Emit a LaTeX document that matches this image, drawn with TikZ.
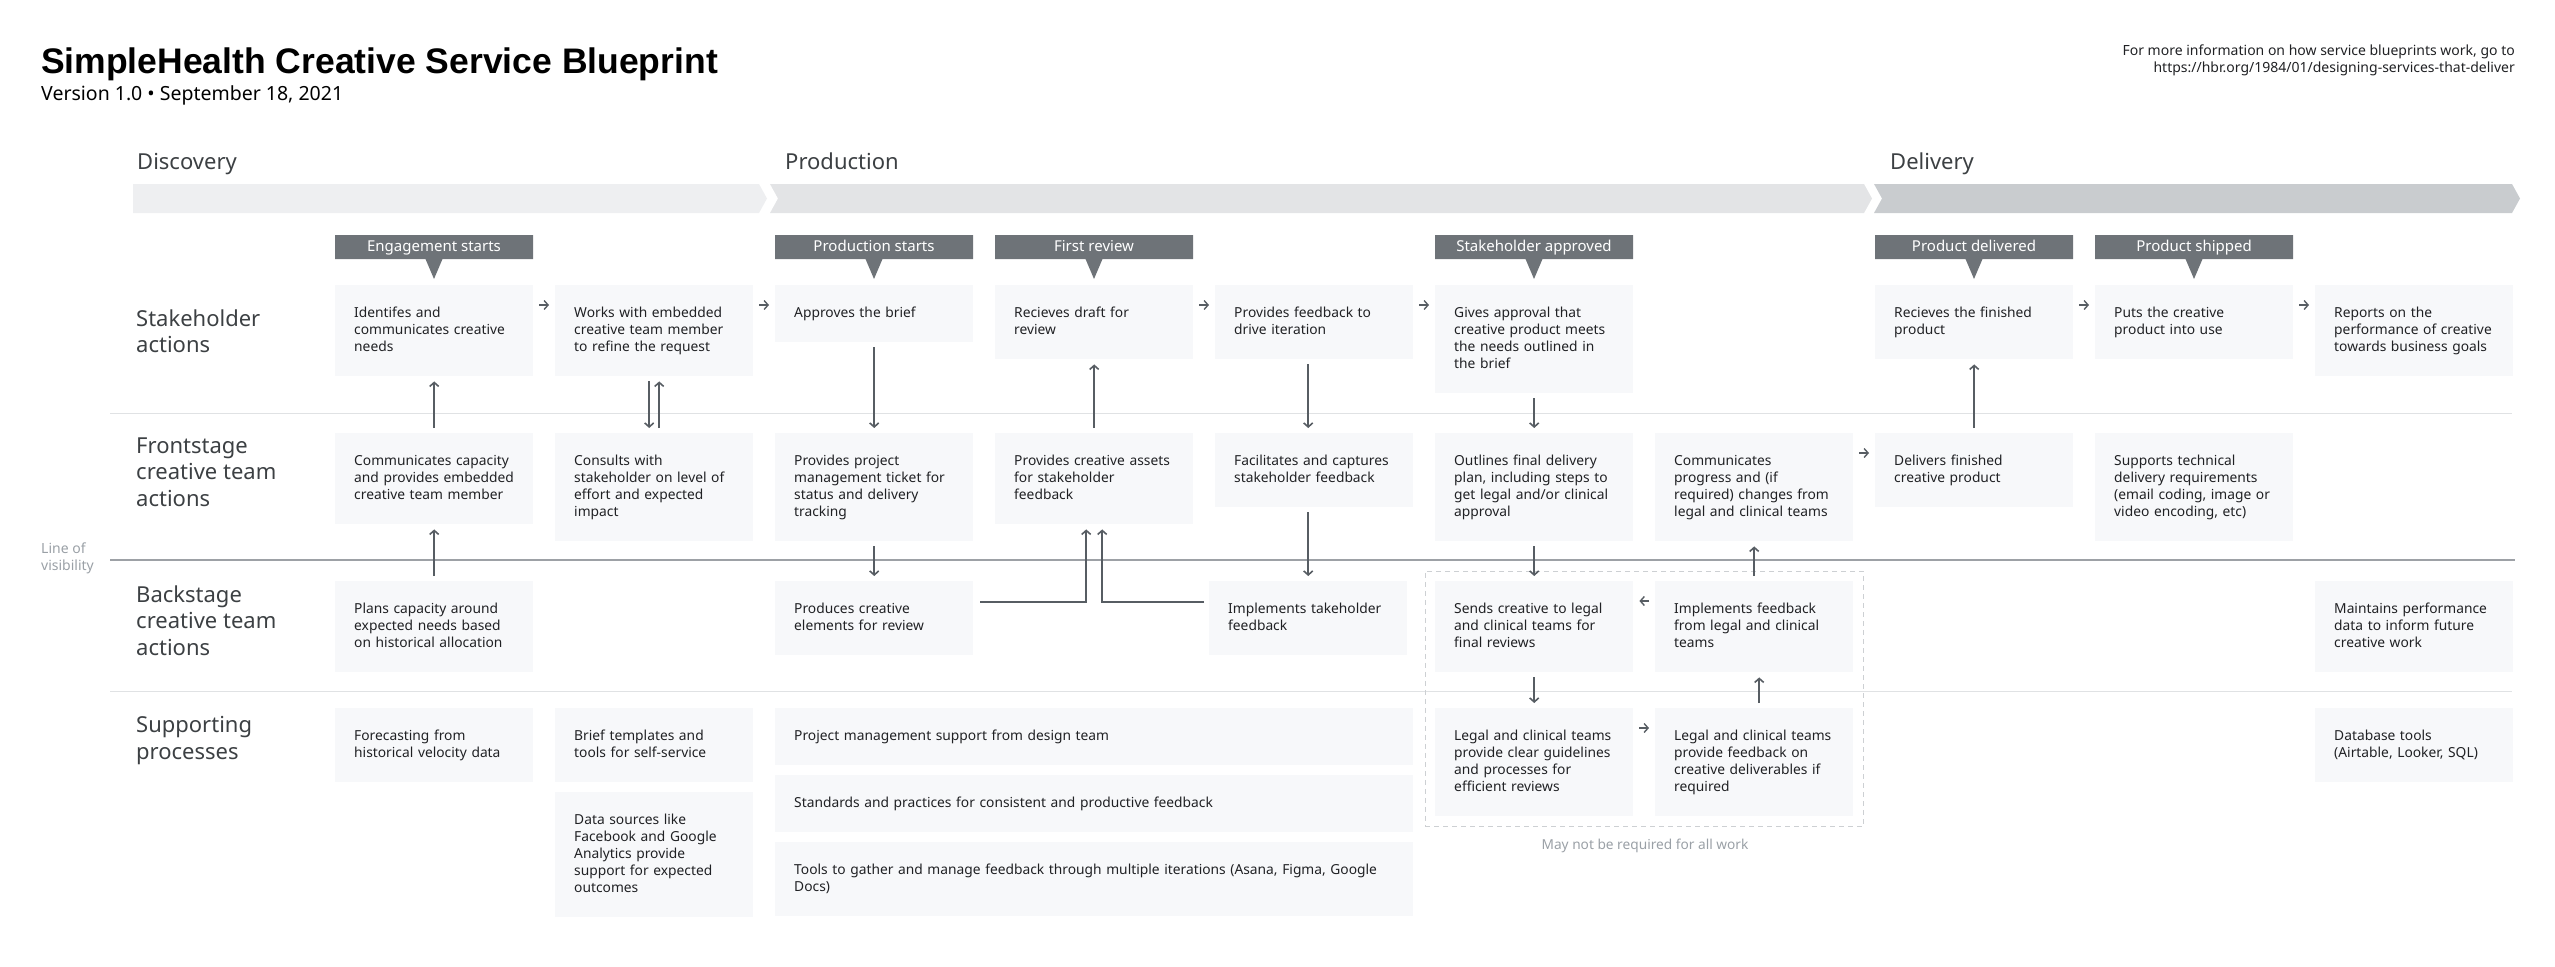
\documentclass[tikz,border=0pt]{standalone}
\usepackage{fontspec}
\setmainfont{Noto Sans}
\newfontfamily\titlefont{Liberation Sans}
\usetikzlibrary{arrows.meta, calc, fit, shapes.callouts}

\definecolor{ink}{HTML}{202124}
\definecolor{lanetext}{HTML}{3C4043}
\definecolor{cardfill}{HTML}{F7F8FA}
\definecolor{tagfill}{HTML}{6E7378}
\definecolor{flowgray}{HTML}{575D63}
\definecolor{divider}{HTML}{E0E2E4}
\definecolor{visline}{HTML}{9DA1A6}
\definecolor{notegray}{HTML}{9AA0A6}
\definecolor{dashgray}{HTML}{CDD0D3}
\definecolor{phaseA}{HTML}{EEEFF1}
\definecolor{phaseB}{HTML}{E3E4E6}
\definecolor{phaseC}{HTML}{C9CCCF}

\newcommand{\cardfont}{\fontsize{13.8}{17}\selectfont}
\newcommand{\tagfont}{\fontsize{15}{18}\selectfont}
\newcommand{\lanefont}{\fontsize{22}{26.5}\selectfont}
\newcommand{\notefont}{\fontsize{14}{17}\selectfont}

\begin{document}
\begin{tikzpicture}[x=1pt, y=-1pt,
    card/.style={anchor=north west, fill=cardfill, text=ink, font=\cardfont,
      text width=160pt, inner xsep=19pt, inner ysep=20pt, align=left,
      execute at begin node=\strut, execute at end node=\strut},
    widecard/.style={card, text width=600pt},
    tag/.style={rectangle callout, fill=tagfill, text=white, font=\tagfont,
      minimum width=198pt, minimum height=24pt, inner sep=0pt,
      text height=11pt, text depth=3pt,
      callout relative pointer={(0pt,-20pt)}, callout pointer width=17pt},
    lane/.style={anchor=north west, text=lanetext, font=\lanefont, align=left,
      inner sep=0pt, execute at begin node=\strut},
    flow/.style={draw=flowgray, line width=1.6pt, -{Straight Barb[length=4pt,width=9pt]},
      shorten >=5pt, shorten <=5pt},
    hop/.style={flow, line width=1.4pt, shorten >=6pt, shorten <=6pt}]
    \useasboundingbox (0,0) rectangle (2555,966);

    % Header
    \node[anchor=base west, inner sep=0pt, font=\titlefont\fontsize{35.5}{40}\selectfont\bfseries] (title) at (41,74) {SimpleHealth Creative Service Blueprint};
    \node[anchor=base west, inner sep=0pt, font=\fontsize{19.5}{23}\selectfont] (version) at (41,100) {Version 1.0 • September 18, 2021};
    \node[anchor=north east, align=right, inner sep=0pt, font=\notefont, text=ink,
      execute at begin node=\strut] (moreinfo) at (2515,45)
      {For more information on how service blueprints work, go to\\https://hbr.org/1984/01/designing-services-that-deliver};

    % Phase bars
    \foreach \xa/\xb/\notch/\shade/\name/\lx/\label in {133/759/0/phaseA/discovery/137/Discovery,
        770/1864/8/phaseB/production/785/Production, 1874/2512/8/phaseC/delivery/1890/Delivery} {
        \fill[\shade] (\xa,184) -- (\xb,184) -- (\xb+8,198.5) -- (\xb,213) -- (\xa,213) -- (\xa+\notch,198.5) -- cycle;
        \node[anchor=base west, inner sep=0pt, font=\lanefont, text=lanetext] (\name) at (\lx,169) {\label};
    }

    % Lane dividers and line of visibility
    \draw[divider, line width=1pt] (110,413) -- (2512,413);
    \draw[divider, line width=1pt] (110,691.5) -- (2512,691.5);
    \draw[visline, line width=1.8pt] (110,560) -- (2515,560);
    \node[anchor=north west, align=left, inner sep=0pt, font=\notefont, text=notegray,
      execute at begin node=\strut] (visibility) at (41,543) {Line of\\visibility};

    % Lane labels
    \node[lane] (stakeholder) at (136,309.5) {Stakeholder\\actions};
    \node[lane] (frontstage) at (136,437.5) {Frontstage\\creative team\\actions};
    \node[lane] (backstage) at (136,585.5) {Backstage\\creative team\\actions};
    \node[lane] (supporting) at (136,716.5) {Supporting\\processes};

    % Moments
    \foreach \name/\cx/\txt in {engage/434/Engagement starts, prodstart/874/Production starts,
        review/1094/First review, approved/1534/Stakeholder approved,
        delivered/1974/Product delivered, shipped/2194/Product shipped}
        \node[tag] (\name) at (\cx,247) {\txt};

    % Stakeholder actions
    \node[card] (s1) at (335,285) {Identifes and\\communicates creative\\needs};
    \node[card] (s2) at (555,285) {Works with embedded\\creative team member\\to refine the request};
    \node[card] (s3) at (775,285) {Approves the brief};
    \node[card] (s4) at (995,285) {Recieves draft for\\review};
    \node[card] (s5) at (1215,285) {Provides feedback to\\drive iteration};
    \node[card] (s6) at (1435,285) {Gives approval that\\creative product meets\\the needs outlined in\\the brief};
    \node[card] (s8) at (1875,285) {Recieves the finished\\product};
    \node[card] (s9) at (2095,285) {Puts the creative\\product into use};
    \node[card] (s10) at (2315,285) {Reports on the\\performance of creative\\towards business goals};

    % Frontstage actions
    \node[card] (f1) at (335,433) {Communicates capacity\\and provides embedded\\creative team member};
    \node[card] (f2) at (555,433) {Consults with\\stakeholder on level of\\effort and expected\\impact};
    \node[card] (f3) at (775,433) {Provides project\\management ticket for\\status and delivery\\tracking};
    \node[card] (f4) at (995,433) {Provides creative assets\\for stakeholder\\feedback};
    \node[card] (f5) at (1215,433) {Facilitates and captures\\stakeholder feedback};
    \node[card] (f6) at (1435,433) {Outlines final delivery\\plan, including steps to\\get legal and/or clinical\\approval};
    \node[card] (f7) at (1655,433) {Communicates\\progress and (if\\required) changes from\\legal and clinical teams};
    \node[card] (f8) at (1875,433) {Delivers finished\\creative product};
    \node[card] (f9) at (2095,433) {Supports technical\\delivery requirements\\(email coding, image or\\video encoding, etc)};

    % Backstage actions
    \node[card] (b1) at (335,581) {Plans capacity around\\expected needs based\\on historical allocation};
    \node[card] (b3) at (775,581) {Produces creative\\elements for review};
    \node[card] (b5) at (1209,581) {Implements takeholder\\feedback};
    \node[card] (b6) at (1435,581) {Sends creative to legal\\and clinical teams for\\final reviews};
    \node[card] (b7) at (1655,581) {Implements feedback\\from legal and clinical\\teams};
    \node[card] (b10) at (2315,581) {Maintains performance\\data to inform future\\creative work};

    % Supporting processes
    \node[card] (p1) at (335,708) {Forecasting from\\historical velocity data};
    \node[card] (p2) at (555,708) {Brief templates and\\tools for self-service};
    \node[card] (p2b) at (555,792) {Data sources like\\Facebook and Google\\Analytics provide\\support for expected\\outcomes};
    \node[widecard] (p3) at (775,708) {Project management support from design team};
    \node[widecard] (p3b) at (775,775) {Standards and practices for consistent and productive feedback};
    \node[widecard] (p3c) at (775,842) {Tools to gather and manage feedback through multiple iterations (Asana, Figma, Google\\Docs)};
    \node[card] (p6) at (1435,708) {Legal and clinical teams\\provide clear guidelines\\and processes for\\efficient reviews};
    \node[card] (p7) at (1655,708) {Legal and clinical teams\\provide feedback on\\creative deliverables if\\required};
    \node[card] (p10) at (2315,708) {Database tools\\(Airtable, Looker, SQL)};

    % Optional legal review
    \node[draw=dashgray, line width=1pt, dash pattern=on 5pt off 4pt, inner sep=10pt,
      fit=(b6)(p7)] (optional) {};
    \node[anchor=base, inner sep=0pt, font=\fontsize{13.7}{16}\selectfont, text=notegray]
      (optnote) at (1645,849) {May not be required for all work};

    % Steps along a lane
    \foreach \a/\b in {s1/s2, s2/s3, s4/s5, s5/s6, s8/s9, s9/s10, f7/f8, p6/p7}
        \draw[hop] ([yshift=-20pt]\a.north east) -- ([yshift=-20pt]\b.north west);
    \draw[hop] ([yshift=-20pt]b7.north west) -- ([yshift=-20pt]b6.north east);

    % Hand-offs between lanes
    \foreach \a/\b in {f1/s1, b1/f1, f4/s4, b7/f7, f8/s8}
        \draw[flow] (\a.north) -- (\b.south);
    \foreach \a/\b in {s3/f3, f3/b3, s6/f6, f6/b6, b6/p6}
        \draw[flow] (\a.south) -- (\b.north);
    \draw[flow] ([xshift=-5pt]s2.south) -- ([xshift=-5pt]f2.north);
    \draw[flow] ([xshift=5pt]f2.north) -- ([xshift=5pt]s2.south);
    \draw[flow] (s5.south -| b5.north) -- (f5.north -| b5.north);
    \draw[flow] (f5.south -| b5.north) -- (b5.north);
    \draw[flow] ([xshift=5pt]p7.north) -- ([xshift=5pt]b7.south);
    \draw[flow, shorten <=0pt] ($(b3.north east)+(7,21)$) -| ([xshift=-8pt]f4.south);
    \draw[flow, shorten <=0pt] ($(b5.north west)+(-5,21)$) -| ([xshift=8pt]f4.south);
\end{tikzpicture}
\end{document}
